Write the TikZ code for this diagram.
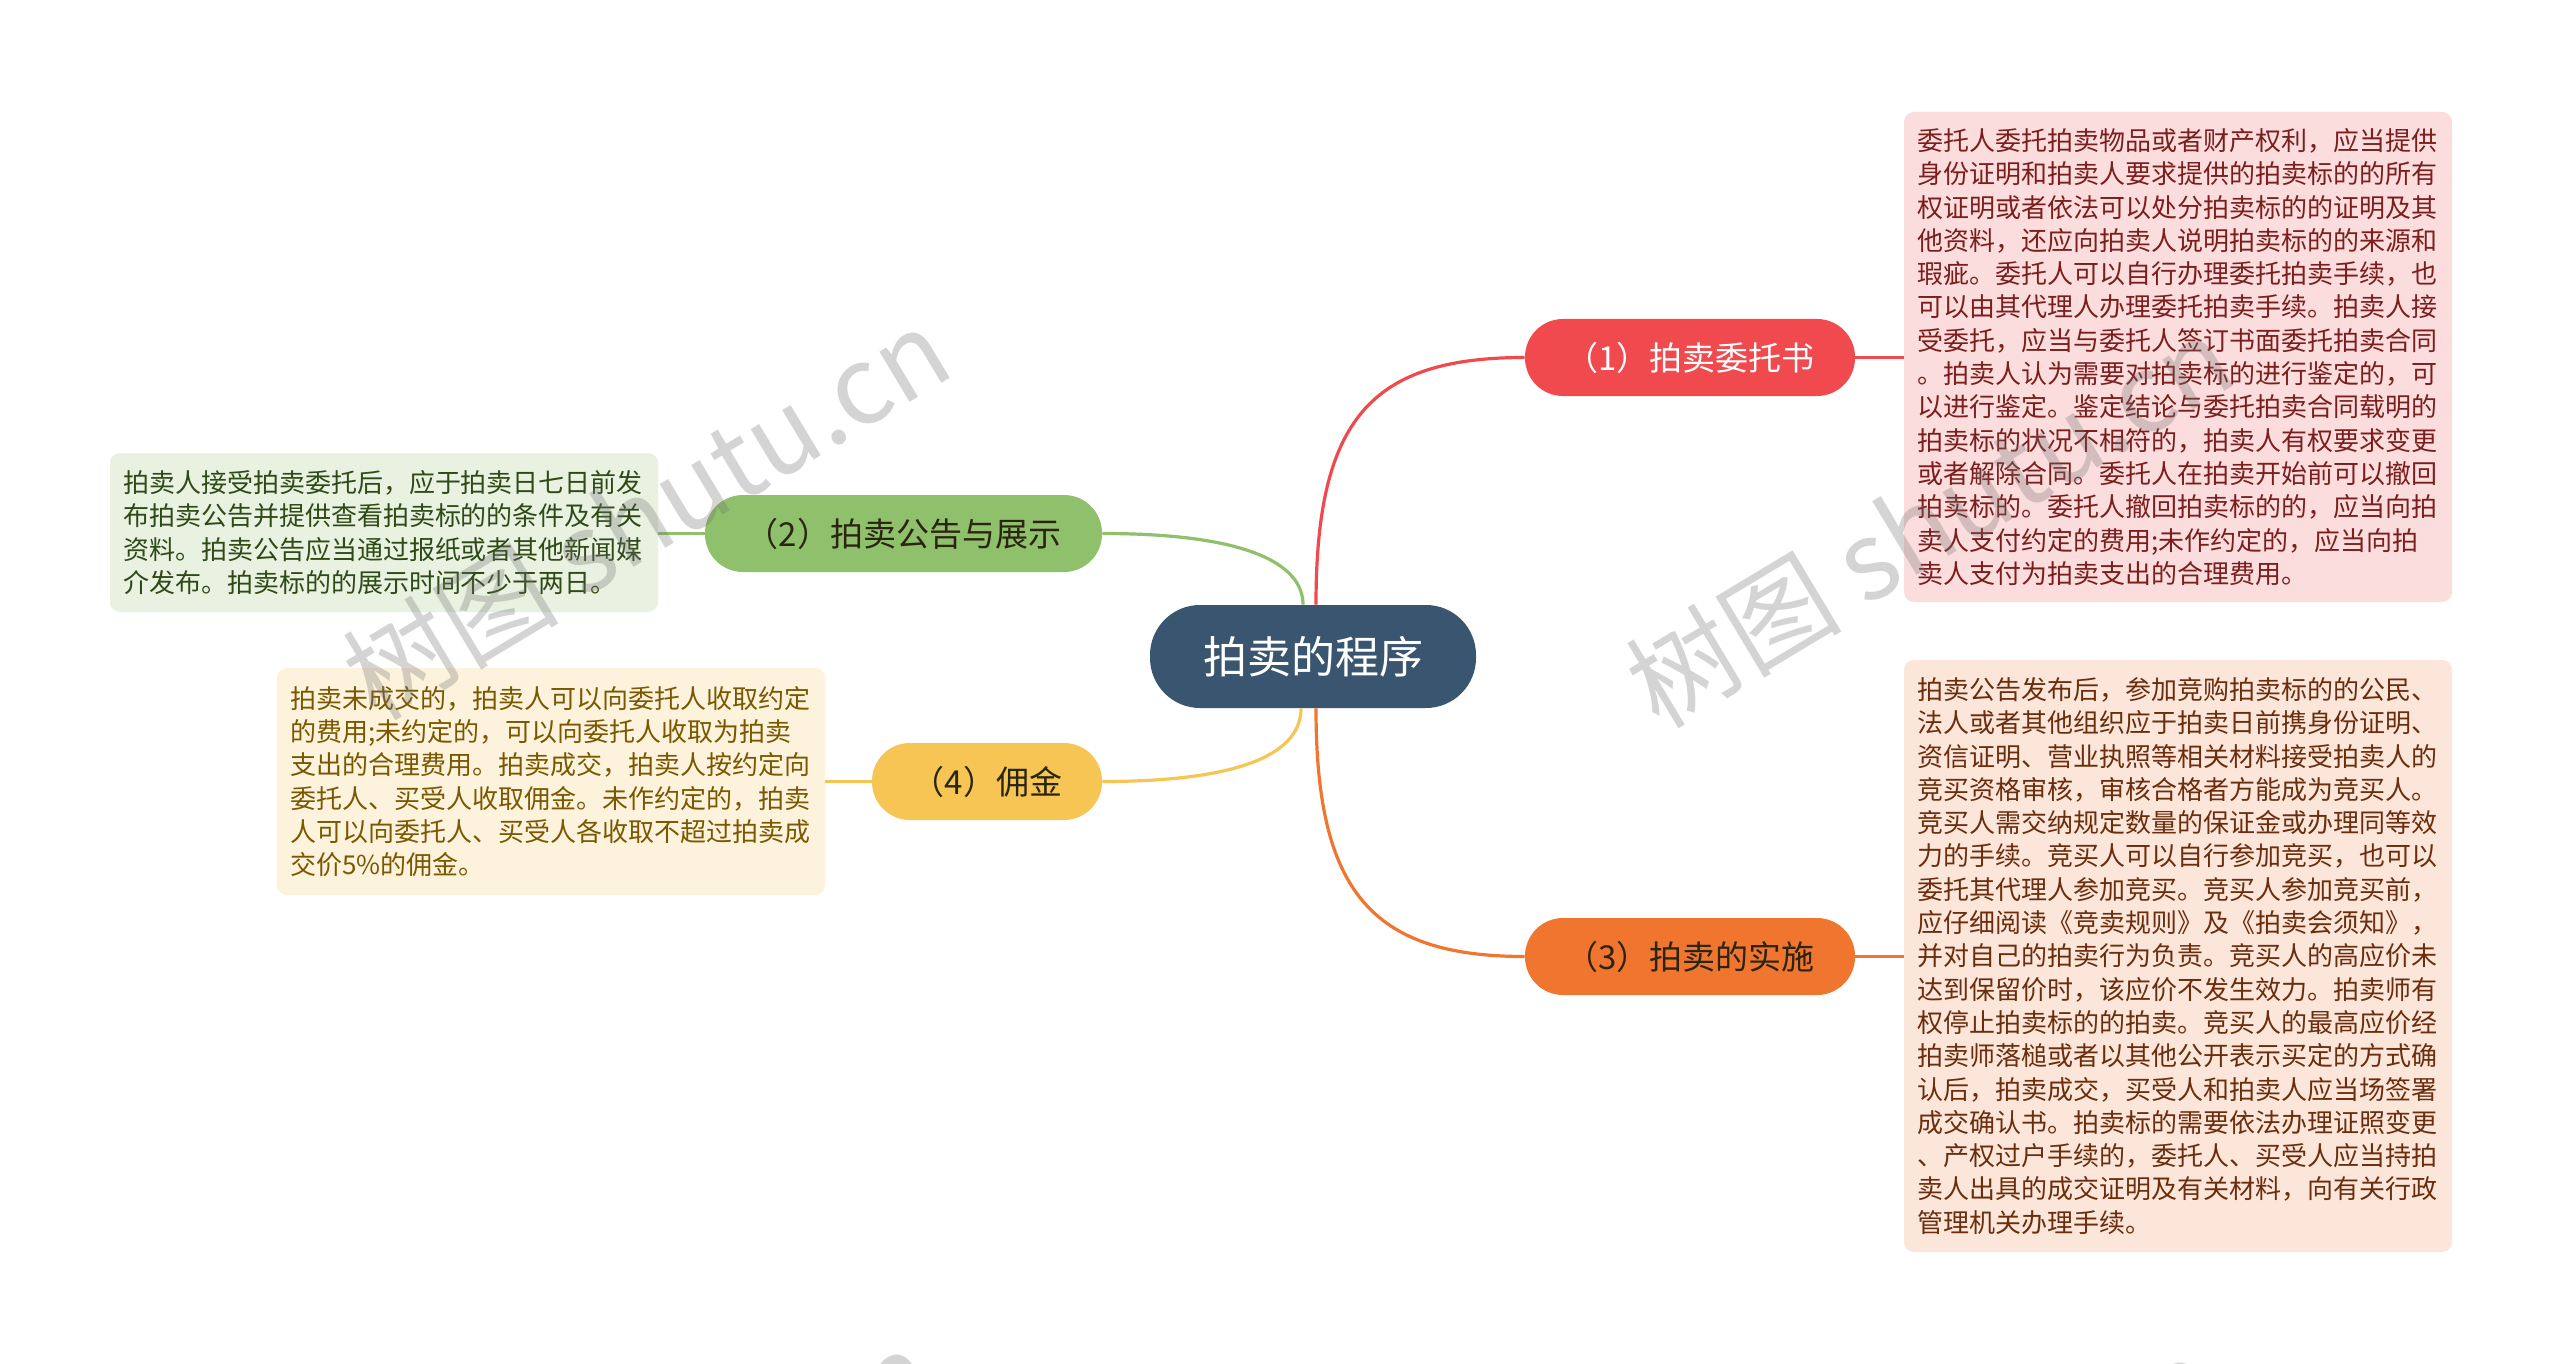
\documentclass[tikz,border=0pt]{standalone}
\usepackage{fontspec}
\setmainfont{Noto Sans CJK SC}
\definecolor{rootc}{HTML}{3A5570}
\definecolor{redc}{HTML}{F04A4E}
\definecolor{greenc}{HTML}{8FC06B}
\definecolor{yellowc}{HTML}{F6C553}
\definecolor{orangec}{HTML}{F07630}
\definecolor{redbox}{HTML}{FCDDDD}
\definecolor{greenbox}{HTML}{E9F1E1}
\definecolor{yellowbox}{HTML}{FDF3DD}
\definecolor{orangebox}{HTML}{FCE6D9}
\definecolor{redtxt}{HTML}{7B1E1E}
\definecolor{greentxt}{HTML}{2E4A17}
\definecolor{yellowtxt}{HTML}{7A5800}
\definecolor{orangetxt}{HTML}{6A2E0E}
\definecolor{darktxt}{HTML}{2A2410}
\begin{document}
\begin{tikzpicture}[x=0.5pt,y=-0.5pt,
  rootnode/.style={fill=rootc, text=white, rounded corners=25pt, minimum width=163pt, minimum height=51.5pt, inner sep=0pt, font=\fontsize{22}{24}\selectfont},
  branchnode/.style={rounded corners=19pt, minimum height=38.5pt, inner sep=0pt, font=\fontsize{16.5}{18}\selectfont},
  detail/.style={rounded corners=5pt, inner sep=0pt, text width=261pt, minimum width=274pt, align=left, font=\fontsize{13}{16.65}\selectfont},
  link/.style={line width=1.6pt},
  wm/.style={text=black!55, text opacity=0.3, font=\fontsize{54}{60}\selectfont, rotate=31}
]
\useasboundingbox (0,0) rectangle (2560,1364);
\fill[white] (0,0) rectangle (2560,1364);

% nodes
\node[rootnode] (root) at (1313,656.5) {拍卖的程序};
\node[branchnode, fill=redc, text=white, minimum width=165pt] (b1) at (1690,357.5) {（1）拍卖委托书};
\node[branchnode, fill=greenc, text=darktxt, minimum width=198.5pt] (b2) at (903.5,533.5) {（2）拍卖公告与展示};
\node[branchnode, fill=orangec, text=darktxt, minimum width=165pt] (b3) at (1690,956.5) {（3）拍卖的实施};
\node[branchnode, fill=yellowc, text=darktxt, minimum width=115pt] (b4) at (987,781.5) {（4）佣金};

\node[detail, fill=redbox, text=redtxt, minimum height=245pt] (d1) at (2178,357) {委托人委托拍卖物品或者财产权利，应当提供\\身份证明和拍卖人要求提供的拍卖标的的所有\\权证明或者依法可以处分拍卖标的的证明及其\\他资料，还应向拍卖人说明拍卖标的的来源和\\瑕疵。委托人可以自行办理委托拍卖手续，也\\可以由其代理人办理委托拍卖手续。拍卖人接\\受委托，应当与委托人签订书面委托拍卖合同\\。拍卖人认为需要对拍卖标的进行鉴定的，可\\以进行鉴定。鉴定结论与委托拍卖合同载明的\\拍卖标的状况不相符的，拍卖人有权要求变更\\或者解除合同。委托人在拍卖开始前可以撤回\\拍卖标的。委托人撤回拍卖标的的，应当向拍\\卖人支付约定的费用;未作约定的，应当向拍\\卖人支付为拍卖支出的合理费用。};

\node[detail, fill=orangebox, text=orangetxt, minimum height=296pt] (d3) at (2178,956) {拍卖公告发布后，参加竞购拍卖标的的公民、\\法人或者其他组织应于拍卖日前携身份证明、\\资信证明、营业执照等相关材料接受拍卖人的\\竞买资格审核，审核合格者方能成为竞买人。\\竞买人需交纳规定数量的保证金或办理同等效\\力的手续。竞买人可以自行参加竞买，也可以\\委托其代理人参加竞买。竞买人参加竞买前，\\应仔细阅读《竞卖规则》及《拍卖会须知》，\\并对自己的拍卖行为负责。竞买人的高应价未\\达到保留价时，该应价不发生效力。拍卖师有\\权停止拍卖标的的拍卖。竞买人的最高应价经\\拍卖师落槌或者以其他公开表示买定的方式确\\认后，拍卖成交，买受人和拍卖人应当场签署\\成交确认书。拍卖标的需要依法办理证照变更\\、产权过户手续的，委托人、买受人应当持拍\\卖人出具的成交证明及有关材料，向有关行政\\管理机关办理手续。};

\node[detail, fill=greenbox, text=greentxt, minimum height=79.5pt] (d2) at (384,532.5) {拍卖人接受拍卖委托后，应于拍卖日七日前发\\布拍卖公告并提供查看拍卖标的的条件及有关\\资料。拍卖公告应当通过报纸或者其他新闻媒\\介发布。拍卖标的的展示时间不少于两日。};

\node[detail, fill=yellowbox, text=yellowtxt, minimum height=113.5pt] (d4) at (551,781.5) {拍卖未成交的，拍卖人可以向委托人收取约定\\的费用;未约定的，可以向委托人收取为拍卖\\支出的合理费用。拍卖成交，拍卖人按约定向\\委托人、买受人收取佣金。未作约定的，拍卖\\人可以向委托人、买受人各收取不超过拍卖成\\交价5\%的佣金。};

% connectors
\draw[link, redc] ([xshift=1.5pt]root.north) .. controls (1316,420) and (1370,357.5) .. (b1.west);
\draw[link, orangec] ([xshift=1.5pt]root.south) .. controls (1316,890) and (1370,956.5) .. (b3.west);
\draw[link, greenc] ([xshift=-5pt]root.north) .. controls (1303,565) and (1250,533.5) .. (b2.east);
\draw[link, yellowc] ([xshift=-6pt]root.south) .. controls (1301,750) and (1250,781.5) .. (b4.east);
\draw[link, redc] (b1.east) -- (d1.west |- b1.east);
\draw[link, orangec] (b3.east) -- (d3.west |- b3.east);
\draw[link, greenc] (b2.west) -- (d2.east |- b2.west);
\draw[link, yellowc] (b4.west) -- (d4.east |- b4.west);

% watermarks
\begin{scope}
\clip (0,0) rectangle (2560,1364);
\node[wm] (w1) at (646,513) {树图 shutu.cn};
\node[wm] (w2) at (1929,521) {树图 shutu.cn};
\node[wm] (w3) at (630,1535) {树图 shutu.cn};
\node[wm] (w4) at (1913,1543) {树图 shutu.cn};
\end{scope}
\end{tikzpicture}
\end{document}
